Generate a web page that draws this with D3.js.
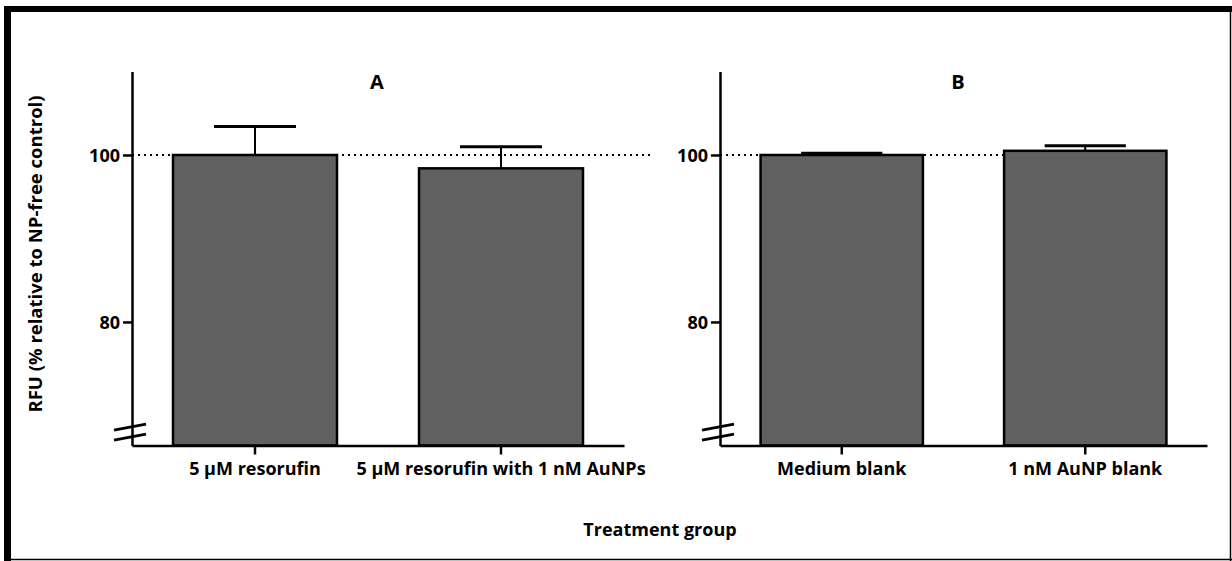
<!DOCTYPE html>
<html>
<head>
<meta charset="utf-8">
<script src="https://cdn.jsdelivr.net/npm/d3@7"></script>
<style>
  html, body { margin: 0; padding: 0; background: #fff; }
  svg { display: block; }
  text { font-family: "Open Sans", Lato, sans-serif; font-weight: 700; fill: #000; }
</style>
</head>
<body>
<svg id="chart" width="1232" height="561"></svg>
<script>
// Panel A: resorufin with and without gold nanoparticles
const groupsA = ["5 \u03BCM resorufin", "5 \u03BCM resorufin with 1 nM AuNPs"];
const meansA = [100, 98.4];
const errorsA = [3.4, 2.6];

// Panel B: blanks
const groupsB = ["Medium blank", "1 nM AuNP blank"];
const meansB = [100, 100.5];
const errorsB = [0.2, 0.6];

const yTicks = [80, 100];
const yDomain = [65.2, 110];
const referenceLevel = 100;

const svg = d3.select("#chart");

// outer frame: heavy top/left edges, thin bottom/right edges
svg.append("rect").attr("x", 4).attr("y", 6).attr("width", 7).attr("height", 555).attr("fill", "#000");
svg.append("rect").attr("x", 4).attr("y", 6).attr("width", 1228).attr("height", 6).attr("fill", "#000");
svg.append("line").attr("x1", 1230.5).attr("x2", 1230.5).attr("y1", 6).attr("y2", 561)
  .attr("stroke", "#000").attr("stroke-width", 1.5);
svg.append("line").attr("x1", 4).attr("x2", 1232).attr("y1", 559.5).attr("y2", 559.5)
  .attr("stroke", "#000").attr("stroke-width", 1.5);

const y = d3.scaleLinear().domain(yDomain).range([445.5, 71.5]);

function drawPanel(cfg) {
  const g = svg.append("g");
  const x = d3.scaleBand().domain(cfg.groups).range(cfg.xRange)
    .paddingInner(1 / 3).paddingOuter(1 / 6);
  const x0 = cfg.xRange[0];

  // dotted reference line at 100 %
  g.append("line")
    .attr("x1", x0).attr("x2", cfg.refEnd(x))
    .attr("y1", y(referenceLevel)).attr("y2", y(referenceLevel))
    .attr("stroke", "#000").attr("stroke-width", 2).attr("stroke-dasharray", "2,4");

  // error bars (upper whisker only)
  cfg.groups.forEach((grp, i) => {
    const cx = x(grp) + x.bandwidth() / 2;
    const top = cfg.means[i] + cfg.errors[i];
    g.append("line").attr("x1", cx).attr("x2", cx)
      .attr("y1", y(cfg.means[i])).attr("y2", y(top))
      .attr("stroke", "#000").attr("stroke-width", 2);
    g.append("line")
      .attr("x1", cx - x.bandwidth() / 4).attr("x2", cx + x.bandwidth() / 4)
      .attr("y1", y(top)).attr("y2", y(top))
      .attr("stroke", "#000").attr("stroke-width", 3);
  });

  // bars
  g.selectAll("rect.bar").data(cfg.groups).join("rect")
    .attr("class", "bar")
    .attr("x", d => x(d))
    .attr("width", x.bandwidth())
    .attr("y", (d, i) => y(cfg.means[i]))
    .attr("height", (d, i) => y(yDomain[0]) - y(cfg.means[i]))
    .attr("fill", "#606060").attr("stroke", "#000").attr("stroke-width", 2.5);

  // y axis
  const ya = g.append("g").attr("transform", `translate(${x0},0)`)
    .call(d3.axisLeft(y).tickValues(yTicks).tickSize(9).tickPadding(3).tickSizeOuter(0));
  ya.select(".domain").attr("stroke-width", 2.5);
  ya.selectAll(".tick line").attr("stroke-width", 2.5);
  ya.selectAll(".tick text").style("font-size", "18px").attr("dy", "0.36em");

  // axis break marks
  [0, 10].forEach(off => {
    g.append("line")
      .attr("x1", x0 - 18).attr("x2", x0 + 14)
      .attr("y1", y(67.4) + off + 3).attr("y2", y(67.4) + off - 3)
      .attr("stroke", "#000").attr("stroke-width", 3);
  });

  // x axis
  const xa = g.append("g").attr("transform", `translate(0,${y(yDomain[0])})`)
    .call(d3.axisBottom(x).tickSize(9).tickPadding(8).tickSizeOuter(0));
  xa.select(".domain").attr("stroke-width", 2.5);
  xa.selectAll(".tick line").attr("stroke-width", 2.5);
  xa.selectAll(".tick text").style("font-size", "18px");

  // panel letter
  g.append("text").attr("x", cfg.titleX).attr("y", 89)
    .attr("text-anchor", "middle").style("font-size", "20px").text(cfg.title);
}

drawPanel({
  groups: groupsA, means: meansA, errors: errorsA,
  xRange: [132, 624], title: "A", titleX: 377,
  refEnd: x => x.range()[1] + 30
});

drawPanel({
  groups: groupsB, means: meansB, errors: errorsB,
  xRange: [720, 1207], title: "B", titleX: 958,
  refEnd: x => x(groupsB[1]) + x.bandwidth() / 2
});

// axis titles
svg.append("text")
  .attr("transform", "translate(42,254) rotate(-90)")
  .attr("text-anchor", "middle").style("font-size", "18.5px")
  .text("RFU (% relative to NP-free control)");

svg.append("text")
  .attr("x", 660).attr("y", 536)
  .attr("text-anchor", "middle").style("font-size", "18px")
  .text("Treatment group");
</script>
</body>
</html>
